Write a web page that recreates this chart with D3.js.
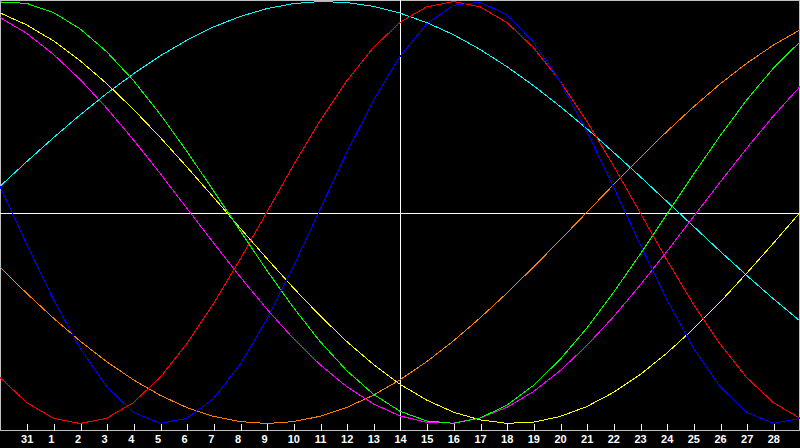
<!DOCTYPE html>
<html>
<head>
  <title>Biorhythm</title>
  <meta charset="UTF-8">
  <style>
    body { margin: 0; background-color: #000; }
    svg { display: block; }
    .label { font-family: "Liberation Sans", Arial, sans-serif; font-size: 11px; font-weight: bold; fill: #fff; }
  </style>
</head>
<body>
<svg></svg>
<script src="https://d3js.org/d3.v7.min.js"></script>
<script>

// dimensions
let width = 800, height = 448;

// day labels under the ticks (index 1..29), index 0 and 30 carry no label
let dayLabels = ["31", "1", "2", "3", "4", "5", "6", "7", "8", "9", "10", "11", "12", "13", "14",
  "15", "16", "17", "18", "19", "20", "21", "22", "23", "24", "25", "26", "27", "28"];
let todayIndex = 15;

// cycle values in percent, one point per day (index 0..30)
let physical = [12.3, -15.0, -41.1, -64.2, -82.5, -94.7, -99.9, -97.6, -88.2, -72.1, -50.8, -25.7, 1.4, 28.3, 53.1,
  74.0, 89.4, 98.2, 99.7, 93.8, 80.9, 62.1, 38.6, 12.3, -15.0, -41.1, -64.2, -82.5, -94.7, -99.9, -97.6];
let emotional = [-78.2, -90.1, -97.5, -100, -97.5, -90.1, -78.2, -62.3, -43.4, -22.3, 0, 22.3, 43.4, 62.3, 78.2,
  90.1, 97.5, 100, 97.5, 90.1, 78.2, 62.3, 43.4, 22.3, 0, -22.3, -43.4, -62.3, -78.2, -90.1, -97.5];
let intellectual = [99.8, 99.1, 94.8, 87.1, 76.2, 62.6, 46.7, 29.1, 10.5, -8.6, -27.3, -45.0, -61.1, -74.9, -86.1,
  -94.2, -98.8, -99.9, -97.4, -91.4, -82.0, -69.7, -54.9, -38.0, -19.9, -1.0, 18.0, 36.3, 53.3, 68.4, 80.9];
let intuitive = [92.4, 84.9, 75.0, 63.1, 49.5, 34.5, 18.6, 2.1, -14.3, -30.4, -45.7, -59.7, -72.1, -82.5, -90.7,
  -96.4, -99.5, -99.8, -97.4, -92.4, -84.9, -75.0, -63.1, -49.5, -34.5, -18.6, -2.1, 14.3, 30.4, 45.7, 59.7];
let aesthetic = [94.6, 88.9, 81.4, 72.0, 61.1, 48.9, 35.7, 21.7, 7.3, -7.3, -21.7, -35.7, -48.9, -61.1, -72.0,
  -81.4, -88.9, -94.6, -98.3, -99.9, -99.4, -96.7, -92.0, -85.3, -76.9, -66.7, -55.2, -42.5, -28.8, -14.6, 0];
let awareness = [-25.9, -38.3, -50.0, -60.9, -70.7, -79.3, -86.6, -92.4, -96.6, -99.1, -100, -99.1, -96.6, -92.4, -86.6,
  -79.3, -70.7, -60.9, -50.0, -38.3, -25.9, -13.1, 0, 13.1, 25.9, 38.3, 50.0, 60.9, 70.7, 79.3, 86.6];
let spiritual = [12.4, 24.1, 35.4, 46.2, 56.4, 65.7, 74.2, 81.6, 87.9, 92.9, 96.6, 99.0, 100.0, 99.5, 97.7,
  94.5, 90.0, 84.3, 77.3, 69.2, 60.2, 50.3, 39.8, 28.6, 17.1, 5.3, -6.5, -18.3, -29.8, -40.9, -51.4];

let series = [
  {name: "spiritual", values: spiritual, color: "#00ffff"},
  {name: "awareness", values: awareness, color: "#ff8000"},
  {name: "aesthetic", values: aesthetic, color: "#ffff00"},
  {name: "intuitive", values: intuitive, color: "#ff00ff"},
  {name: "intellectual", values: intellectual, color: "#00ff00"},
  {name: "emotional", values: emotional, color: "#ff0000"},
  {name: "physical", values: physical, color: "#0000ff"}
];

let svg = d3.select("svg")
    .attr("width", width)
    .attr("height", height)
    .style("background-color", "#000");

// scales
let x = d3.scaleLinear().domain([0, 30]).range([0, 800]);
let y = d3.scaleLinear().domain([-100, 100]).range([423.5, 1.5]);
let axisY = 430.5;

// frame
svg.append("path")
    .attr("d", `M0.5,${axisY} V0.5 H799.5 V${axisY}`)
    .attr("fill", "none")
    .attr("stroke", "#c0c0c0")
    .attr("shape-rendering", "crispEdges");

// bottom axis with day ticks
let axis = d3.axisBottom(x)
    .tickValues(d3.range(1, 30).filter(d => d != todayIndex))
    .tickSize(-7)
    .tickFormat("");

let axisG = svg.append("g")
    .attr("transform", `translate(0.5, ${axisY})`)
    .call(axis);
axisG.select(".domain").attr("stroke", "#c0c0c0").attr("d", "M-0.5,0H799");
axisG.selectAll(".tick line").attr("stroke", "#fff").attr("shape-rendering", "crispEdges");

svg.append("g")
    .selectAll("text")
    .data(dayLabels)
    .enter()
    .append("text")
    .attr("class", "label")
    .attr("x", (d, i) => x(i + 1) + (d.length == 1 ? -2 : 0.5))
    .attr("y", 443)
    .attr("text-anchor", "middle")
    .text(d => d);

// centre line and today line
svg.append("line")
    .attr("x1", 0).attr("x2", 800)
    .attr("y1", Math.round(y(0)) + 0.5).attr("y2", Math.round(y(0)) + 0.5)
    .attr("stroke", "#fff")
    .attr("shape-rendering", "crispEdges");

svg.append("line")
    .attr("x1", x(todayIndex) + 0.5).attr("x2", x(todayIndex) + 0.5)
    .attr("y1", 0).attr("y2", axisY)
    .attr("stroke", "#fff")
    .attr("shape-rendering", "crispEdges");

// cycles
let line = d3.line()
    .x((d, i) => x(i))
    .y(d => y(d));

svg.append("g")
    .selectAll("path")
    .data(series)
    .enter()
    .append("path")
    .attr("d", d => line(d.values))
    .attr("fill", "none")
    .attr("stroke", d => d.color)
    .attr("stroke-width", 1)
    .attr("shape-rendering", "crispEdges");

</script>
</body>
</html>
